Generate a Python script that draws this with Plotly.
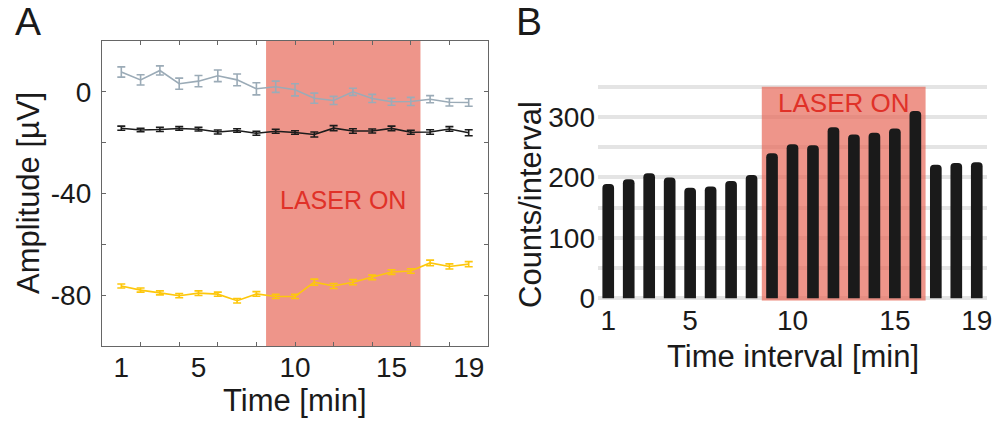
import plotly.graph_objects as go

# ---------------- data ----------------
minutes = list(range(1, 20))

gray_amp = [7.8, 4.7, 8.4, 3.2, 4.2, 6.3, 4.7, 1.2, 2.0, 0.8, -2.5, -3.4, 0.0, -2.6, -3.9, -3.8, -2.9, -4.1, -4.2]
gray_err = [2.0, 2.0, 1.8, 2.2, 2.2, 2.3, 2.3, 2.4, 2.2, 2.4, 2.0, 1.6, 1.4, 1.6, 1.4, 1.6, 1.4, 1.5, 1.5]

black_amp = [-14.3, -15.0, -14.8, -14.4, -14.7, -15.8, -15.2, -16.3, -15.5, -16.0, -16.8, -14.3, -15.4, -15.4, -14.4, -15.9, -15.8, -14.6, -16.1]
black_err = [0.8, 0.7, 0.8, 0.7, 0.7, 0.8, 0.7, 0.8, 0.8, 0.7, 1.0, 1.0, 0.9, 0.8, 0.9, 0.8, 0.9, 0.9, 1.2]

yellow_amp = [-76.4, -78.0, -79.1, -80.2, -79.2, -79.6, -82.2, -79.5, -80.5, -80.5, -74.9, -76.4, -74.9, -73.0, -70.9, -70.5, -67.3, -68.7, -67.8]
yellow_err = [0.8, 0.8, 0.8, 0.8, 0.9, 0.8, 0.9, 0.9, 0.8, 0.8, 1.2, 1.0, 1.0, 0.9, 0.9, 0.9, 1.1, 1.0, 1.0]

counts = [189, 197, 207, 200, 183, 185, 194, 204, 240, 255, 253, 283, 271, 274, 281, 310, 221, 224, 225]

x_ticks = [1, 5, 10, 15, 19]
x_minor_ticks = [2, 4, 6, 8, 10, 12, 14, 16, 18]
a_y_ticks = [-100, -80, -60, -40, -20, 0, 20]
a_y_text = ["", "-80", "", "-40", "", "0", ""]
b_y_ticks = [0, 100, 200, 300]
laser_on = [8.5, 16.5]

# ---------------- style ----------------
FONT = "Liberation Sans, Arial, sans-serif"
TXT = "#1a1a1a"
FRAME = "#666666"
SHADE = "rgba(231,104,88,0.7)"
LASER_TXT = "#E03128"
GRAY = "#9BABB7"
BLACK = "#1c1c1c"
YELLOW = "#FDC70C"

fig = go.Figure()


def series(y, err, color):
    fig.add_trace(go.Scatter(
        x=minutes, y=y, mode="lines",
        line=dict(color=color, width=1.6),
        error_y=dict(type="data", array=err, visible=True, color=color, thickness=1.6, width=4),
        xaxis="x", yaxis="y", showlegend=False, hoverinfo="skip"))


series(gray_amp, gray_err, GRAY)
series(black_amp, black_err, BLACK)
series(yellow_amp, yellow_err, YELLOW)

fig.add_trace(go.Bar(
    x=minutes, y=counts, width=0.57,
    marker=dict(color="#1a1a1a", line=dict(width=0), cornerradius=4),
    xaxis="x2", yaxis="y2", showlegend=False, hoverinfo="skip"))

# laser shading
fig.add_shape(type="rect", xref="x", yref="y", x0=laser_on[0], x1=laser_on[1], y0=-100, y1=20,
              fillcolor=SHADE, line=dict(width=0), layer="below")
fig.add_shape(type="rect", xref="x2", yref="y2", x0=laser_on[0], x1=laser_on[1], y0=-4, y1=350,
              fillcolor=SHADE, line=dict(width=0), layer="between")

axis_font = dict(family=FONT, size=28, color=TXT)

fig.update_layout(
    width=999, height=423,
    margin=dict(l=0, r=0, t=0, b=0, pad=0, autoexpand=False),
    paper_bgcolor="white", plot_bgcolor="white",
    font=dict(family=FONT, color=TXT),
    xaxis=dict(domain=[0.1021, 0.4885], range=[0, 20], tickvals=x_ticks, ticks="",
               tickfont=axis_font, ticklabelstandoff=-4, automargin=False,
               minor=dict(tickvals=x_minor_ticks, ticks="inside", ticklen=4, tickcolor=FRAME, tickwidth=1.3),
               showline=True, linecolor=FRAME, linewidth=1.3, mirror="allticks",
               showgrid=False, zeroline=False, anchor="y"),
    yaxis=dict(domain=[0.1820, 0.9031], range=[-100, 20], tickvals=a_y_ticks, ticktext=a_y_text,
               ticks="inside", ticklen=4, tickcolor=FRAME, tickwidth=1.3,
               tickfont=axis_font, ticklabelstandoff=4, automargin=False,
               showline=True, linecolor=FRAME, linewidth=1.3, mirror="allticks",
               showgrid=False, zeroline=False, anchor="x"),
    xaxis2=dict(domain=[0.5986, 0.9880], range=[0.5, 19.5], tickvals=x_ticks, ticks="",
                tickfont=axis_font, ticklabelstandoff=0, automargin=False,
                showline=False, showgrid=False, zeroline=False, anchor="y2"),
    yaxis2=dict(domain=[0.2891, 0.8007], range=[-4, 354], tickvals=b_y_ticks, ticks="",
                tickfont=axis_font, ticklabelstandoff=2, automargin=False,
                showline=False, zeroline=False, showgrid=True, gridcolor="#e4e4e4", gridwidth=3.5,
                minor=dict(dtick=50, showgrid=True, gridcolor="#e4e4e4", gridwidth=3.5),
                anchor="x2"),
)

fig.add_annotation(text="A", xref="paper", yref="paper", x=13 / 999, y=1 + 2 / 423,
                   xanchor="left", yanchor="top", showarrow=False,
                   font=dict(family=FONT, size=39, color=TXT))
fig.add_annotation(text="B", xref="paper", yref="paper", x=514 / 999, y=1 + 2 / 423,
                   xanchor="left", yanchor="top", showarrow=False,
                   font=dict(family=FONT, size=39, color=TXT))
# axis titles
fig.add_annotation(text="Time [min]", xref="x", yref="paper", x=10, y=1 - 400 / 423,
                   xanchor="center", yanchor="middle", showarrow=False,
                   font=dict(family=FONT, size=31, color=TXT))
fig.add_annotation(text="Amplitude [µV]", xref="paper", yref="paper", x=28 / 999, y=1 - 193 / 423,
                   xanchor="center", yanchor="middle", textangle=-90, showarrow=False,
                   font=dict(family=FONT, size=31, color=TXT))
fig.add_annotation(text="Time interval [min]", xref="x2", yref="paper", x=10, y=1 - 356 / 423,
                   xanchor="center", yanchor="middle", showarrow=False,
                   font=dict(family=FONT, size=31, color=TXT))
fig.add_annotation(text="Counts/interval", xref="paper", yref="paper", x=531 / 999, y=1 - 205 / 423,
                   xanchor="center", yanchor="middle", textangle=-90, showarrow=False,
                   font=dict(family=FONT, size=31, color=TXT))
# laser labels
fig.add_annotation(text="LASER ON", xref="x", yref="y", x=sum(laser_on) / 2, y=-42.6,
                   showarrow=False, font=dict(family=FONT, size=25, color=LASER_TXT))
fig.add_annotation(text="LASER ON", xref="x2", yref="y2", x=sum(laser_on) / 2, y=323,
                   showarrow=False, font=dict(family=FONT, size=26, color=LASER_TXT))

fig.write_html("out.html")
